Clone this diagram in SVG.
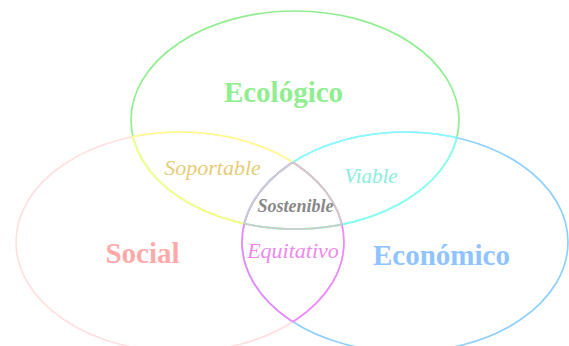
<svg xmlns="http://www.w3.org/2000/svg" width="569" height="346" viewBox="0 0 569 346">
<defs>
<style>
.e{fill:none;stroke-width:1.7}
.t{font-family:"Liberation Serif",serif;font-weight:bold;font-size:29px;text-anchor:middle}
.s{font-family:"Liberation Serif",serif;font-style:italic;text-anchor:middle}
</style>
<clipPath id="inEco"><ellipse cx="295" cy="120" rx="164" ry="109"/></clipPath>
<clipPath id="inSoc"><ellipse cx="180" cy="242" rx="164" ry="110"/></clipPath>
<clipPath id="inEcn"><ellipse cx="405" cy="242" rx="163" ry="110"/></clipPath>
</defs>
<rect width="569" height="346" fill="#fff"/>
<g id="eco"><ellipse class="e" cx="295" cy="120" rx="164" ry="109" stroke="#90ee90"/><text class="t" x="283.5" y="102" fill="#90ee90">Ecológico</text></g>
<g id="social"><ellipse class="e" cx="180" cy="242" rx="164" ry="110" stroke="#ffe0e0"/><text class="t" x="142.5" y="263" fill="#ffaaaa">Social</text></g>
<g id="economico"><ellipse class="e" cx="405" cy="242" rx="163" ry="110" stroke="#90d0ff"/><text class="t" x="441.5" y="265" fill="#90c4ff">Económico</text></g>
<g id="connectors">
<g id="soportable-arcs" stroke="#ffff88">
<ellipse class="e" cx="295" cy="120" rx="164" ry="109" clip-path="url(#inSoc)"/>
<ellipse class="e" cx="180" cy="242" rx="164" ry="110" clip-path="url(#inEco)"/>
</g>
<g id="viable-arcs" stroke="#88ffff">
<ellipse class="e" cx="295" cy="120" rx="164" ry="109" clip-path="url(#inEcn)"/>
<ellipse class="e" cx="405" cy="242" rx="163" ry="110" clip-path="url(#inEco)"/>
</g>
<g id="equitativo-arcs" stroke="#ee88ff">
<ellipse class="e" cx="180" cy="242" rx="164" ry="110" clip-path="url(#inEcn)"/>
<ellipse class="e" cx="405" cy="242" rx="163" ry="110" clip-path="url(#inSoc)"/>
</g>
<g id="sostenible-arcs" stroke="#cccccc">
<g clip-path="url(#inSoc)"><ellipse class="e" cx="295" cy="120" rx="164" ry="109" clip-path="url(#inEcn)"/></g>
<g clip-path="url(#inEco)"><ellipse class="e" cx="180" cy="242" rx="164" ry="110" clip-path="url(#inEcn)"/></g>
<g clip-path="url(#inEco)"><ellipse class="e" cx="405" cy="242" rx="163" ry="110" clip-path="url(#inSoc)"/></g>
</g>
</g>
<g id="soportable"><text class="s" x="212.5" y="175" font-size="22" fill="#e6cc77">Soportable</text></g>
<g id="viable"><text class="s" x="371" y="183" font-size="21" fill="#88eedd">Viable</text></g>
<g id="sostenible"><text class="s" x="295.5" y="212" font-size="18" font-weight="bold" fill="#888888">Sostenible</text></g>
<g id="equitativo"><text class="s" x="293" y="258" font-size="22" fill="#ee88ee">Equitativo</text></g>
</svg>
